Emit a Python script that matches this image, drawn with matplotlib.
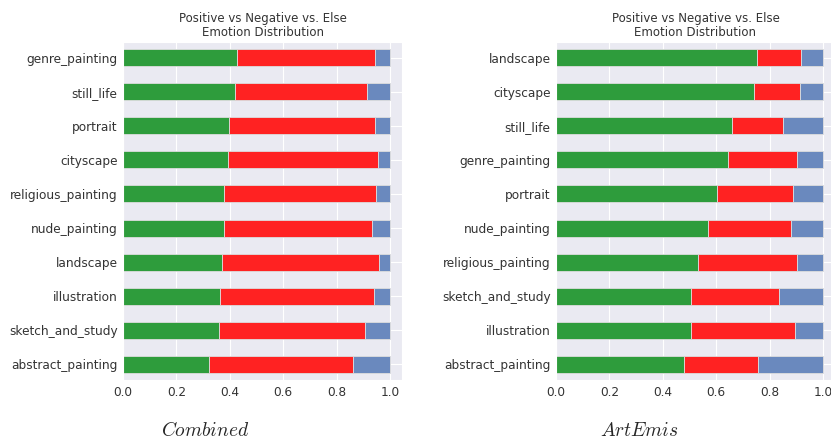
import numpy as np
import matplotlib
matplotlib.use('Agg')
import matplotlib.pyplot as plt
import seaborn as sns

sns.set_style('darkgrid')
plt.rcParams['mathtext.fontset'] = 'cm'

#===============================================================================
# data
#===============================================================================
cats_combined = ['genre_painting', 'still_life', 'portrait', 'cityscape',
                 'religious_painting', 'nude_painting', 'landscape',
                 'illustration', 'sketch_and_study', 'abstract_painting']
pos_combined = [0.428, 0.419, 0.397, 0.393, 0.380, 0.380, 0.372, 0.364, 0.361, 0.323]
neg_combined = [0.517, 0.496, 0.548, 0.563, 0.569, 0.554, 0.588, 0.577, 0.545, 0.540]

cats_artemis = ['landscape', 'cityscape', 'still_life', 'genre_painting',
                'portrait', 'nude_painting', 'religious_painting',
                'sketch_and_study', 'illustration', 'abstract_painting']
pos_artemis = [0.751, 0.741, 0.660, 0.646, 0.602, 0.568, 0.533, 0.504, 0.504, 0.478]
neg_artemis = [0.168, 0.174, 0.190, 0.258, 0.284, 0.311, 0.371, 0.331, 0.390, 0.277]

title = 'Positive vs Negative vs. Else\nEmotion Distribution'
colors = ['#2e9c3c', '#ff2222', '#6a89be']


def plot_panel(ax, cats, pos, neg):
    pos = np.array(pos)
    neg = np.array(neg)
    els = 1.0 - pos - neg
    # top category first -> reverse for y positions
    y = np.arange(len(cats))[::-1]
    kw = dict(height=0.5, edgecolor='#dddddd', linewidth=0.6)
    ax.barh(y, pos, color=colors[0], **kw)
    ax.barh(y, neg, left=pos, color=colors[1], **kw)
    ax.barh(y, els, left=pos + neg, color=colors[2], **kw)
    ax.set_yticks(y)
    ax.set_yticklabels(cats, fontsize=8.7, color='#333333')
    ax.set_xlim(0, 1.045)
    ax.set_ylim(-0.47, len(cats) - 0.53)
    ax.set_xticks([0.0, 0.2, 0.4, 0.6, 0.8, 1.0])
    ax.set_xticklabels(['%.1f' % v for v in ax.get_xticks()], fontsize=8.7, color='#333333')
    ax.set_title(title, fontsize=8.5, color='#333333', pad=4, linespacing=1.1)
    ax.tick_params(axis='both', length=0, pad=4)


fig = plt.figure(figsize=(8.31, 4.42), dpi=100)
ax1 = fig.add_axes([123 / 831, 1 - 380 / 442, 279 / 831, 338 / 442])
ax2 = fig.add_axes([556 / 831, 1 - 380 / 442, 279 / 831, 338 / 442])

plot_panel(ax1, cats_combined, pos_combined, neg_combined)
plot_panel(ax2, cats_artemis, pos_artemis, neg_artemis)

fig.text(205 / 831, 1 - 430 / 442, r'$Combined$', fontsize=14, ha='center', va='center')
fig.text(639 / 831, 1 - 430 / 442, r'$ArtEmis$', fontsize=14, ha='center', va='center')

fig.savefig('out.png', dpi=100)
